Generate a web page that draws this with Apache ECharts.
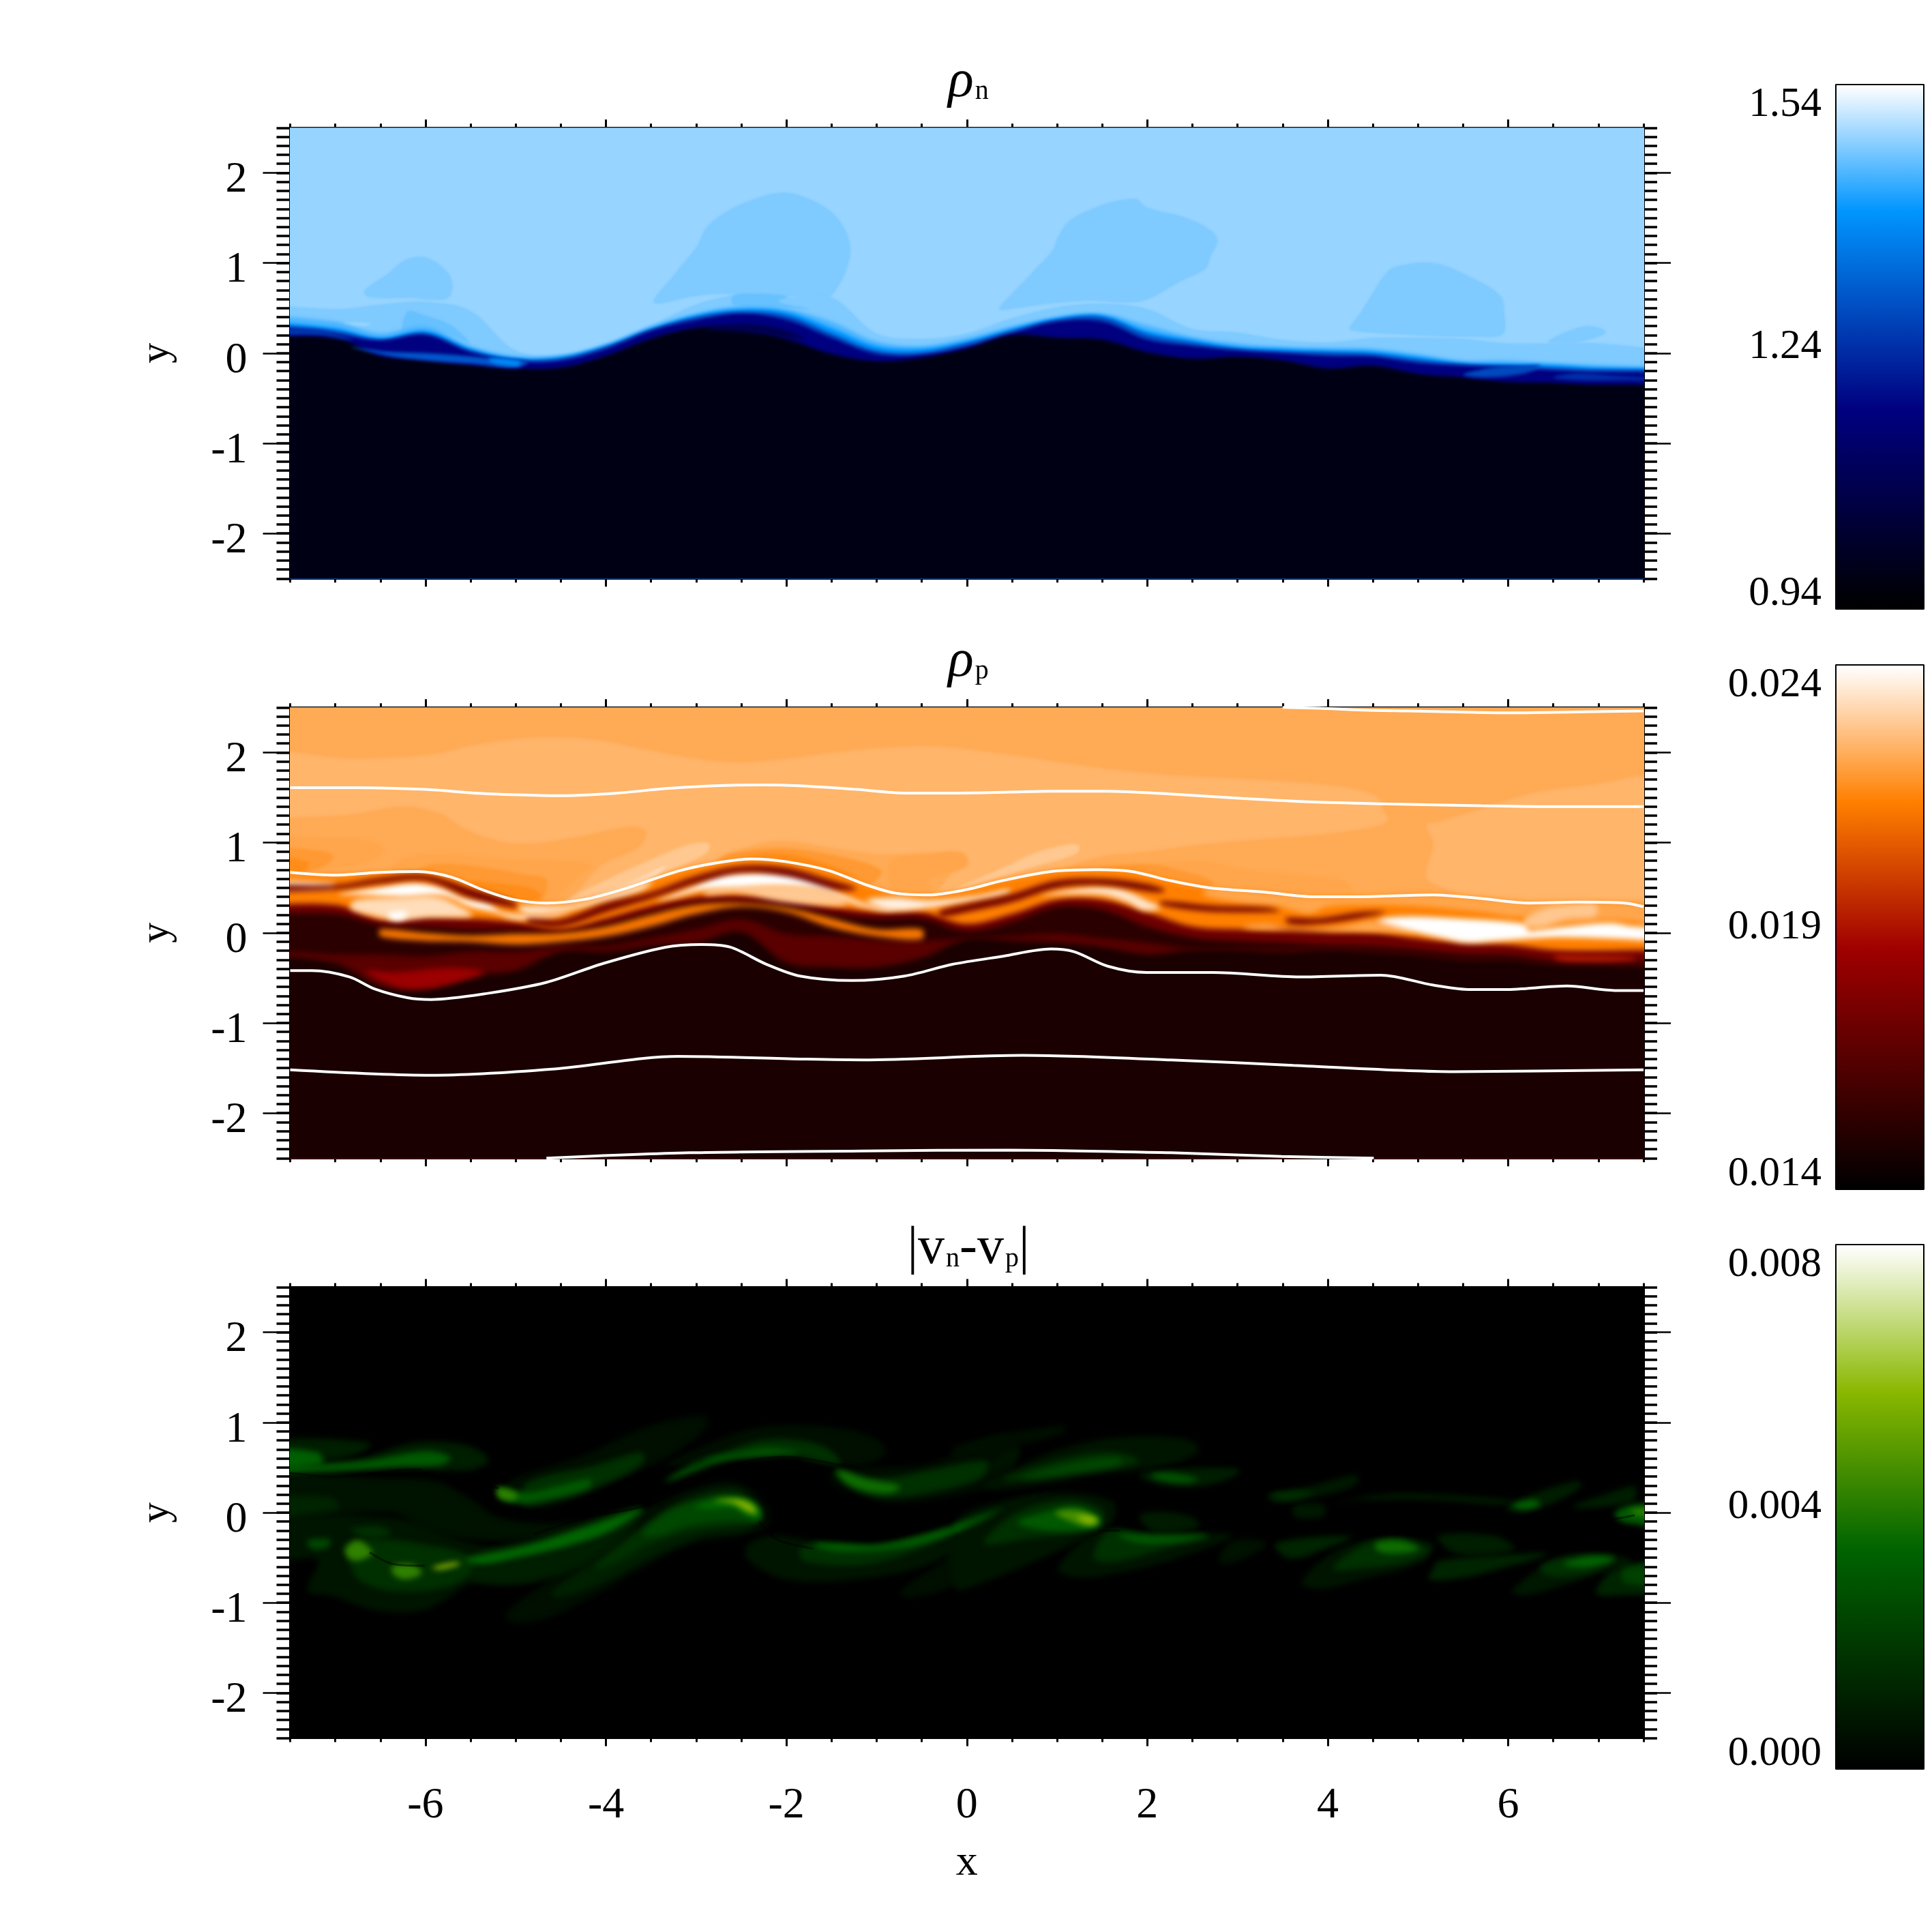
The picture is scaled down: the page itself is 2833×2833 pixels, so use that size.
<!DOCTYPE html>
<html>
<head>
<meta charset="utf-8">
<style>html,body{margin:0;background:#fff}#chart{width:2833px;height:2833px}</style>
<script src="https://cdn.jsdelivr.net/npm/echarts@6/dist/echarts.min.js"></script>
</head>
<body>
<div id="chart"></div>
<script>
// ticks
const xMajor = [-6, -4, -2, 0, 2, 4, 6];
const yMajor = [-2, -1, 0, 1, 2];
// colour tables: position in the bar, colour
const blueStops = [[0, '#000000'], [0.38, '#000080'], [0.76, '#0096ff'], [1, '#ffffff']];
const orangeStops = [[0, '#000000'], [0.46, '#a00000'], [0.74, '#ff8000'], [1, '#ffffff']];
const greenStops = [[0, '#000000'], [0.42, '#006400'], [0.72, '#8ab800'], [1, '#ffffff']];
const blueRange = [0.94, 1.24, 1.54];
const orangeRange = [0.014, 0.019, 0.024];
const greenRange = [0, 0.004, 0.008];

// x sampling of the layered interfaces
const bandX = [-7.5,-7,-6.5,-6,-5.5,-5,-4.5,-4,-3.5,-3,-2.5,-2,-1.5,-1,-0.5,0,0.5,1,1.5,2,2.5,3,3.5,4,4.5,5,5.5,6,6.5,7,7.5];

// rho_n: height of each density level
const rhoNBackground = 1.481;
const rhoNLevels = [1.468, 1.44, 1.396, 1.28, 1.168, 0.976];
const rhoNLevel1 = [.56,.49,.54,.57,.47,.03,-.01,.11,.31,.54,.65,.62,.62,.22,.16,.22,.39,.51,.55,.49,.27,.23,.15,.12,.17,.17,.16,.11,.11,.11,.01];
const rhoNLevel2 = [.44,.35,.22,.30,.08,-.03,-.03,.10,.30,.44,.52,.49,.35,.13,.08,.17,.30,.40,.44,.31,.18,.11,.07,.06,.05,-.01,-.08,-.08,-.11,-.13,-.16];
const rhoNLevel3 = [.37,.28,.17,.25,.05,-.06,-.04,.08,.27,.42,.49,.46,.28,.08,.05,.13,.27,.39,.42,.25,.15,.07,.05,.03,.02,-.04,-.11,-.12,-.13,-.16,-.17];
const rhoNLevel4 = [.34,.25,.15,.22,.03,-.07,-.06,.07,.26,.40,.46,.42,.22,.03,.01,.11,.25,.37,.40,.21,.12,.05,.02,.01,-.01,-.07,-.12,-.14,-.16,-.18,-.19];
const rhoNLevel5 = [.31,.21,.14,.20,.01,-.09,-.08,.05,.25,.37,.44,.37,.17,-.01,-.02,.07,.22,.35,.35,.15,.08,.03,0,-.03,-.04,-.11,-.14,-.16,-.19,-.21,-.21];
const rhoNLevel6 = [.18,.17,-.03,-.08,-.13,-.17,-.16,-.03,.16,.28,.28,.16,-.01,-.09,-.05,.05,.20,.17,.15,.01,-.06,-.04,-.08,-.17,-.14,-.23,-.27,-.32,-.33,-.35,-.35];
// rho_n: plumes above the interface
const rhoNPlumes = [
  [[-6.68,.69],[-6.41,.89],[-6.25,1.02],[-6.09,1.07],[-5.94,1.04],[-5.75,.89],[-5.7,.74],[-5.75,.61],[-5.94,.59],[-6.12,.61],[-6.63,.62]],
  [[-3.47,.56],[-3.23,.89],[-2.99,1.19],[-2.89,1.39],[-2.65,1.58],[-2.33,1.72],[-2.07,1.78],[-1.85,1.75],[-1.53,1.59],[-1.35,1.37],[-1.29,1.14],[-1.35,.89],[-1.48,.66],[-1.56,.61],[-1.99,.63],[-2.6,.65],[-2.83,.65],[-3.07,.62]],
  [[.36,.49],[.5,.66],[.72,.89],[.95,1.14],[1.01,1.29],[1.14,1.47],[1.46,1.63],[1.72,1.70],[1.88,1.71],[1.99,1.62],[2.41,1.51],[2.68,1.38],[2.78,1.25],[2.7,1.07],[2.65,.94],[2.36,.79],[1.99,.59],[1.72,.56],[1.38,.58],[.93,.55],[.56,.50]],
  [[4.24,.28],[4.37,.46],[4.48,.64],[4.64,.88],[4.75,.96],[5.17,1.0],[5.59,.84],[5.91,.64],[5.96,.44],[5.94,.21],[5.65,.18],[4.72,.21],[4.27,.25]],
  [[6.44,.12],[6.6,.22],[6.87,.30],[7.08,.25],[7.05,.2],[6.76,.12]]
];
// rho_n: small patches, [level, outline]
const rhoNUpperPatches = [
  [1.455, [[-2.59,.54],[-2.59,.64],[-2.33,.66],[-1.98,.63],[-2.09,.57],[-1.75,.49],[-2.3,.52]]],
  [1.455, [[-6.2,.46],[-6.01,.42],[-5.72,.31],[-5.51,.11],[-5.77,.22],[-6.04,.27],[-6.25,.22]]],
  [1.481, [[-6.9,.34],[-6.6,.33],[-6.68,.30],[-6.9,.31]]]
];
const rhoNLowerPatches = [
  [1.3, [[-6.83,.07],[-6.46,.02],[-5.99,0],[-5.56,-.03],[-5.14,-.07],[-4.87,-.09],[-4.98,-.16],[-5.46,-.12],[-5.99,-.08],[-6.41,-.03]]],
  [1.38, [[-5.3,-.06],[-4.95,-.09],[-4.98,-.14],[-5.25,-.11]]],
  [1.25, [[-7.5,.27],[-7.2,.26],[-6.97,.21],[-6.8,.14],[-7.2,.2],[-7.5,.2]]],
  [1.28, [[5.5,-.24],[5.81,-.16],[6.12,-.14],[6.36,-.14],[6.2,-.22],[5.76,-.27]]],
  [1.24, [[6.5,-.27],[6.76,-.22],[7.18,-.25],[7.5,-.3],[7.18,-.3],[6.76,-.3]]],
  [1.08, [[-2.9,.26],[-2.5,.32],[-2.1,.28],[-1.8,.16],[-2.2,.2],[-2.6,.24]]]
];

// rho_p: interface bands below the main contour
const rhoPMainLevel = 0.0214;
const rhoPBandLevels = [0.0172, 0.0152, 0.0166, 0.01475];
const rhoPBand1 = [.30,.31,.15,.18,.16,.12,.04,.16,.30,.40,.42,.39,.29,.23,.23,.10,.21,.37,.37,.23,.07,.04,.04,.02,.01,-.06,-.11,-.13,-.19,-.20,-.18];
const rhoPBand2 = [.21,.21,.09,.07,.04,.04,.01,.10,.23,.33,.34,.31,.21,.16,.16,.02,.12,.29,.26,.07,-.05,-.09,-.11,-.14,-.15,-.19,-.24,-.25,-.32,-.33,-.34];
const rhoPBand3 = [-.16,-.24,-.24,-.26,-.21,-.21,-.15,-.15,-.06,.04,.15,-.01,-.04,-.08,-.09,-.06,-.04,-.01,-.06,-.11,-.18,-.18,-.18,-.18,-.19,-.24,-.29,-.29,-.34,-.35,-.36];
const rhoPBand4 = [-.23,-.34,-.59,-.62,-.48,-.42,-.21,-.21,-.14,-.11,.01,-.33,-.38,-.38,-.28,-.07,-.09,-.11,-.16,-.24,-.19,-.19,-.21,-.19,-.21,-.25,-.30,-.30,-.35,-.36,-.38];
// rho_p: orange sheet inside the dark layer, top and bottom from x=-6.5 to x=-0.5
const rhoPSheetLevel = 0.0212;
const rhoPSheetX = [-6.5,-6,-5.5,-5,-4.5,-4,-3.5,-3,-2.5,-2,-1.5,-1,-0.5];
const rhoPSheetTop = [.04,0,-.03,-.01,0,.07,.20,.31,.33,.28,.16,.04,.04];
const rhoPSheetBottom = [-.04,-.09,-.10,-.13,-.10,-.04,.07,.21,.29,.23,.06,-.04,-.07];
// rho_p: white contour lines
const rhoPLineTop = [[3.5,2.5],[3.9,2.49],[4.38,2.47],[4.9,2.46],[5.44,2.45],[5.97,2.44],[6.76,2.45],[7.5,2.46]];
const rhoPLineUpper = [[-7.5,1.61],[-6.78,1.61],[-6,1.59],[-5.46,1.55],[-4.98,1.53],[-4.56,1.52],[-3.87,1.55],[-3.34,1.60],[-2.81,1.63],[-2.28,1.64],[-1.85,1.63],[-1.22,1.59],[-.69,1.55],[-.15,1.55],[.47,1.56],[.93,1.57],[1.56,1.57],[2.25,1.54],[3.05,1.49],[3.84,1.45],[4.64,1.43],[5.7,1.41],[6.5,1.40],[7.5,1.40]];
const rhoPLineMain = [[-7.5,.67],[-7,.64],[-6.52,.67],[-6.09,.68],[-5.72,.62],[-5.35,.47],[-5.03,.37],[-4.66,.33],[-4.24,.37],[-3.82,.48],[-3.18,.69],[-2.75,.78],[-2.38,.82],[-2.01,.79],[-1.53,.69],[-1.11,.53],[-.79,.44],[-.42,.42],[0,.48],[.4,.58],[.93,.68],[1.46,.70],[1.83,.68],[2.25,.58],[2.68,.50],[3.31,.45],[3.84,.40],[4.37,.40],[5.17,.42],[5.7,.38],[6.23,.33],[6.76,.34],[7.29,.33],[7.5,.29]];
const rhoPLineLower = [[-7.5,-.42],[-7.26,-.42],[-6.84,-.49],[-6.57,-.62],[-6.2,-.72],[-5.94,-.74],[-5.3,-.67],[-4.66,-.55],[-4.03,-.34],[-3.34,-.16],[-2.94,-.13],[-2.62,-.16],[-2.22,-.35],[-1.85,-.48],[-1.27,-.53],[-.69,-.48],[-.16,-.35],[.4,-.26],[.93,-.18],[1.19,-.21],[1.56,-.37],[1.99,-.44],[2.73,-.44],[3.69,-.49],[4.59,-.47],[5.17,-.58],[5.59,-.63],[5.96,-.63],[6.65,-.59],[7.18,-.64],[7.5,-.64]];
const rhoPLineDeep = [[-7.5,-1.52],[-5.94,-1.58],[-4.57,-1.51],[-3.2,-1.37],[-1.84,-1.40],[-1.15,-1.41],[.62,-1.36],[2.26,-1.41],[3.62,-1.47],[5.4,-1.54],[7.5,-1.52]];
const rhoPLineBottom = [[-4.66,-2.5],[-3.07,-2.44],[-1.15,-2.42],[.48,-2.41],[2.26,-2.44],[3.49,-2.48],[4.51,-2.5]];
// rho_p: upper fluid, drawn before the interface bands
const rhoPBackground = 0.02226;
const rhoPUpperPatches = [
  [0.02248, [[-7.5,1.92],[-6.78,1.93],[-5.99,1.97],[-5.46,2.08],[-5.08,2.14],[-4.66,2.17],[-4.13,2.14],[-3.6,2.04],[-3.07,1.94],[-2.54,1.89],[-2.01,1.93],[-1.48,2.0],[-.95,2.05],[-.42,2.07],[-.13,2.05],[.51,1.97],[1.04,1.89],[1.72,1.80],[2.26,1.75],[3,1.71],[3.9,1.65],[4.32,1.59],[4.56,1.5],[4.61,1.37],[4.67,1.25],[4.53,1.18],[4,1.10],[3,1.02],[2.52,.97],[1.88,.89],[1.46,.84],[.93,.68],[-.4,.42],[-4.6,.33],[-7.5,.67]]],
  [0.02248, [[5.09,1.20],[5.22,1.23],[5.7,1.37],[6.23,1.54],[6.76,1.62],[7.5,1.67],[7.5,.29],[6.23,.33],[5.65,.39],[5.22,.52],[5.09,.62],[5.17,1.0]]],
  [0.02226, [[-7.5,1.16],[-6.78,1.32],[-6.25,1.40],[-5.83,1.32],[-5.56,1.15],[-5.19,1.02],[-4.87,.99],[-4.39,1.05],[-3.71,1.18],[-3.55,1.12],[-3.65,.94],[-4.02,.77],[-4.55,.34],[-7.5,.67]]],
  [0.02226, [[-2.81,.79],[-2.54,.92],[-2.06,1.02],[-1.48,.94],[-.95,.87],[-.16,.89],[0,.82],[-.16,.67],[-.42,.42],[-1.11,.53],[-2.01,.79],[-2.38,.82]]],
  [0.02218, [[-7.5,1.02],[-7.05,1.05],[-6.62,1.02],[-6.46,.92],[-6.62,.79],[-7.31,.68],[-7.5,.67]]],
  [0.02192, [[-7.5,.92],[-7.15,.91],[-7.02,.83],[-7.26,.69],[-7.5,.67]]],
  [0.02166, [[-7.5,.85],[-7.31,.79],[-7.36,.68],[-7.5,.67]]],
  [0.02218, [[-6.38,.69],[-6.2,.84],[-5.77,.87],[-5.19,.82],[-4.39,.79],[-4.18,.74],[-4.29,.64],[-4.55,.39],[-4.66,.33],[-5.03,.37],[-5.35,.47],[-5.72,.62],[-6.09,.68]]],
  [0.02192, [[-6.09,.68],[-5.93,.76],[-5.46,.74],[-4.87,.64],[-4.66,.59],[-4.72,.36],[-5.03,.37],[-5.35,.47],[-5.72,.62]]],
  [0.02166, [[-5.51,.57],[-5.14,.54],[-4.82,.49],[-4.72,.41],[-4.82,.35],[-5.03,.37]]],
  [0.02288, [[-4.45,.34],[-4.13,.52],[-3.55,.79],[-3.07,.98],[-2.86,.99],[-2.88,.89],[-3.34,.67],[-3.81,.49],[-4.18,.36]]],
  [0.0233, [[-4.13,.39],[-3.71,.57],[-3.34,.74],[-3.49,.6],[-3.81,.48]]],
  [0.02192, [[-2.65,.87],[-2.06,.94],[-1.48,.86],[-.95,.69],[-1.11,.53],[-1.53,.69],[-2.01,.79],[-2.38,.82],[-2.75,.78]]],
  [0.02166, [[-2.54,.83],[-2.06,.88],[-1.64,.79],[-1.22,.62],[-1.53,.69],[-2.01,.79],[-2.38,.82]]],
  [0.02218, [[-.84,.79],[-.42,.87],[-.05,.89],[0,.74],[-.42,.59],[-.42,.42],[-.79,.44]]],
  [0.02288, [[-.13,.48],[.4,.72],[.77,.89],[1.14,.98],[1.25,.96],[1.2,.87],[.77,.74],[.4,.63]]],
  [0.02218, [[.93,.68],[1.46,.76],[1.99,.76],[2.62,.79],[3.16,.69],[3.9,.62],[4.19,.57],[4.27,.42],[3.84,.40],[3.31,.45],[2.68,.50],[2.25,.58],[1.83,.68],[1.46,.70]]],
  [0.02192, [[1.46,.71],[1.99,.76],[2.41,.68],[2.73,.57],[2.68,.50],[2.25,.58],[1.83,.68]]]
];
// rho_p: hot and dark structures on top of the bands
const rhoPLowerPatches = [
  [0.02218, [[2.68,.50],[3.31,.45],[3.84,.40],[4.37,.40],[5.17,.42],[5.7,.38],[6.23,.33],[6.18,.18],[5.7,.23],[5.06,.29],[4.53,.31],[4,.29],[3.79,.21],[3.47,.29],[3.05,.33],[2.62,.42]]],
  [0.02218, [[6.23,.33],[6.76,.34],[7.29,.33],[7.5,.29],[7.5,.07],[7.18,.14],[6.6,.10],[6.28,.04],[6.18,.14]]],
  [0.0233, [[-7.5,.58],[-7,.55],[-7.05,.5],[-7.5,.5]]],
  [0.0233, [[-6.78,.36],[-6.25,.39],[-5.88,.40],[-5.61,.29],[-5.48,.19],[-5.98,.17],[-6.3,.14],[-6.57,.19],[-6.83,.27]]],
  [0.024, [[-6.41,.22],[-6.2,.23],[-6.25,.15],[-6.38,.15]]],
  [0.024, [[-6.97,.43],[-6.52,.5],[-6.14,.55],[-5.83,.5],[-5.56,.38],[-5.3,.33],[-5.19,.25],[-5.06,.21],[-4.71,.19],[-4.39,.23],[-4.66,.16],[-5.03,.16],[-5.24,.23],[-5.51,.29],[-5.72,.39],[-5.88,.42],[-6.25,.40],[-6.67,.42]]],
  [0.0235, [[-4.98,.29],[-4.39,.31],[-3.81,.47],[-3.49,.57],[-3.6,.47],[-4.02,.34],[-4.45,.24],[-4.87,.21]]],
  [0.0229, [[-2.9,.47],[-2.54,.5],[-2.06,.52],[-1.59,.47],[-1.32,.33],[-1.48,.30],[-2.01,.34],[-2.54,.44],[-2.9,.42]]],
  [0.024, [[-3.44,.36],[-3.07,.5],[-2.75,.63],[-2.33,.67],[-1.96,.65],[-1.64,.57],[-1.37,.42],[-1.05,.30],[-.79,.26],[-.95,.25],[-1.27,.33],[-1.59,.47],[-2.06,.52],[-2.54,.5],[-2.91,.48],[-3.23,.40]]],
  [0.0237, [[-1.11,.36],[-.79,.39],[-.42,.36],[.11,.41],[.47,.48],[.47,.44],[.11,.36],[-.42,.28],[-.84,.25]]],
  [0.0235, [[.82,.42],[1.14,.48],[1.46,.51],[1.72,.48],[1.99,.36],[2.15,.28],[1.96,.25],[1.78,.34],[1.51,.42],[1.14,.43]]],
  [0.0222, [[3.05,.07],[3.32,.10],[3.58,.05],[4.11,.07],[4.56,.14],[4.96,.01],[4.53,.01],[3.9,.02],[3.16,.04]]],
  [0.02288, [[6.18,.14],[6.39,.26],[6.76,.31],[6.97,.31],[6.97,.19],[6.65,.16],[6.34,.07],[6.18,.10]]],
  [0.024, [[4.56,.14],[4.86,.18],[5.44,.16],[6.12,.11],[6.23,.06],[6.2,.02],[6.65,.07],[7.13,.11],[7.4,.07],[7.5,.04],[7.5,-.08],[7.03,-.06],[6.5,-.05],[5.86,-.09],[5.54,-.11],[5.28,-.06],[4.96,.01],[4.75,.07]]],
  [0.0172, [[-7.5,.52],[-7,.53],[-6.5,.61],[-6,.64],[-5.5,.49],[-5,.33],[-5,.28],[-5.5,.39],[-6,.58],[-6.5,.55],[-7,.48],[-7.5,.46]]],
  [0.0172, [[-4.87,.15],[-4.5,.15],[-4,.33],[-3.5,.45],[-3,.63],[-2.5,.74],[-2,.72],[-1.5,.58],[-1.22,.49],[-1.32,.47],[-1.5,.49],[-2,.63],[-2.5,.67],[-3,.55],[-3.5,.38],[-4,.23],[-4.5,.07],[-4.87,.10]]],
  [0.0172, [[-.3,.24],[0,.32],[.5,.43],[1,.58],[1.5,.60],[2,.54],[2.2,.47],[2.1,.45],[1.5,.53],[1,.50],[.5,.34],[0,.23],[-.3,.18]]],
  [0.0172, [[2.15,.35],[2.73,.30],[3.32,.28],[3.47,.24],[3.16,.23],[2.63,.24],[2.15,.31]]],
  [0.0172, [[3.53,.16],[3.9,.16],[4.38,.23],[4.64,.23],[4.32,.16],[3.9,.10],[3.58,.10]]],
  [0.0192, [[6.5,-.25],[6.87,-.25],[7.4,-.27],[7.4,-.30],[6.87,-.32],[6.55,-.30]]],
  [0.0185, [[-6.67,-.42],[-6.36,-.44],[-5.72,-.39],[-5.35,-.44],[-5.83,-.59],[-6.2,-.62],[-6.47,-.54]]]
];

// |vn-vp|: nested lobes of drift speed, [level, outline]
const driftPeakLobes = [
  [.0005, [[-5.11,-1.12],[-4.66,-.77],[-4.13,-.36],[-3.6,0],[-3.18,.22],[-2.59,.34],[-2.22,.09],[-2.22,-.16],[-2.54,-.26],[-3.07,-.36],[-3.6,-.62],[-4.13,-.92],[-4.66,-1.17],[-5.03,-1.22]]],
  [.00107, [[-4.61,-.89],[-4.13,-.54],[-3.6,-.16],[-3.18,.14],[-2.59,.28],[-2.28,.04],[-2.38,-.17],[-2.91,-.26],[-3.44,-.46],[-4.02,-.77],[-4.5,-.94]]],
  [.0016, [[-4.13,-.62],[-3.81,-.34],[-3.44,-.06],[-3.12,.11],[-2.59,.23],[-2.3,.04],[-2.38,-.11],[-2.96,-.19],[-3.49,-.34],[-3.92,-.57]]],
  [.0024, [[-3.6,-.24],[-3.34,-.01],[-2.96,.14],[-2.59,.18],[-2.3,.04],[-2.3,-.09],[-2.59,-.09],[-3.07,-.14],[-3.44,-.26]]],
  [.0034, [[-3.02,.06],[-2.81,.14],[-2.54,.16],[-2.33,.08],[-2.29,-.06],[-2.43,-.04],[-2.59,.05],[-2.83,.04]]],
  [.0056, [[-2.81,.13],[-2.54,.15],[-2.38,.09],[-2.33,-.01],[-2.43,.01],[-2.59,.10]]],
  [.0010, [[-5.56,-.50],[-4.66,-.26],[-3.6,.06],[-3.87,-.36],[-4.66,-.74],[-5.46,-.77]]],
  [.0034, [[-5.56,-.52],[-4.87,-.36],[-4.24,-.16],[-3.6,.04],[-3.92,-.19],[-4.39,-.36],[-5.08,-.52],[-5.4,-.57]]]
];
const driftUpperLobes = [
  [.0005, [[-3.34,.54],[-2.91,.74],[-2.43,.92],[-1.9,.97],[-1.22,.90],[-.9,.72],[-1,.57],[-1.43,.52],[-2.01,.64],[-2.54,.64],[-3.07,.52]]],
  [.0016, [[-3.07,.54],[-2.7,.67],[-2.28,.80],[-1.85,.80],[-1.53,.70],[-1.4,.54],[-1.64,.57],[-2.06,.66],[-2.54,.64]]],
  [.0028, [[-2.91,.58],[-2.54,.66],[-2.2,.72],[-1.85,.66],[-2.3,.62]]],
  [.0026, [[-3.34,.34],[-2.54,.62],[-2.06,.66],[-2.54,.66],[-3.07,.52]]],
  [.0005, [[-1.53,.39],[-1.27,.48],[-.42,.54],[.47,.87],[.47,.37],[0,.22],[-.79,.11],[-1.27,.22]]],
  [.0016, [[-1.48,.47],[-.95,.38],[-.42,.47],[.22,.57],[.16,.39],[-.42,.22],[-.95,.17],[-1.27,.27]]],
  [.0036, [[-1.43,.47],[-1.11,.37],[-.74,.29],[-.84,.22],[-1.11,.24],[-1.35,.34]]],
  [.0005, [[-5.03,.37],[-4.24,.64],[-3.49,.97],[-2.91,1.07],[-2.88,.95],[-3.28,.64],[-3.81,.39],[-4.45,.11],[-4.87,.06],[-5.14,.24]]],
  [.0016, [[-4.87,.33],[-4.13,.52],[-3.6,.67],[-3.6,.54],[-4.02,.32],[-4.55,.14],[-4.92,.09]]],
  [.0030, [[-5.19,.28],[-4.87,.22],[-4.55,.29],[-4.18,.37],[-4.18,.28],[-4.66,.15],[-5.03,.11],[-5.19,.19]]],
  [.0042, [[-5.19,.27],[-4.98,.2],[-5.03,.14],[-5.19,.17]]]
];
const driftLeftLobes = [
  [.0006, [[-7.5,.44],[-6.5,.38],[-5.9,.35],[-5.5,.15],[-5.2,-.05],[-4.6,-.12],[-4,-.05],[-3.4,.05],[-3.4,-.05],[-4,-.25],[-4.8,-.3],[-5.5,-.3],[-6,-.2],[-6.4,0],[-7.5,-.1]]],
  [.0010, [[-7.5,.49],[-6.78,.59],[-6.14,.77],[-5.56,.75],[-5.3,.59],[-5.51,.47],[-6.25,.49],[-7.05,.46]]],
  [.0030, [[-7.5,.49],[-7.05,.54],[-6.62,.58],[-5.99,.68],[-5.72,.61],[-5.83,.53],[-6.25,.51],[-7.05,.46],[-7.5,.44]]],
  [.0010, [[-7.5,.77],[-6.62,.78],[-6.78,.64],[-7.5,.47]]],
  [.0032, [[-7.5,.69],[-7.2,.67],[-7.15,.54],[-7.5,.49]]],
  [.0012, [[-7.5,.14],[-7.05,.17],[-6.97,.04],[-7.5,-.04]]],
  [.0007, [[-7.5,-.11],[-6.36,-.06],[-5.61,-.31],[-4.66,-.57],[-5.46,-.77],[-5.99,-1.07],[-6.52,-1.09],[-7.05,-.92],[-7.31,-.87],[-7.2,-.52],[-7.5,-.57]]],
  [.0016, [[-6.78,-.69],[-6.89,-.36],[-6.57,-.29],[-5.99,-.36],[-5.51,-.49],[-5.51,-.69],[-5.83,-.84],[-6.36,-.87],[-6.67,-.79]]],
  [.0024, [[-7.31,-.31],[-7.05,-.30],[-7.1,-.39],[-7.26,-.40]]],
  [.0016, [[-6.83,-.19],[-6.52,-.15],[-6.38,-.23],[-6.62,-.28]]],
  [.0042, [[-6.36,-.59],[-6.14,-.58],[-6.04,-.67],[-6.22,-.74],[-6.36,-.68]]],
  [.0042, [[-6.89,-.41],[-6.75,-.31],[-6.59,-.44],[-6.7,-.52],[-6.83,-.52]]],
  [.0058, [[-5.93,-.61],[-5.67,-.55],[-5.61,-.57],[-5.83,-.63]]]
];
const driftRightLobes = [
  [.0007, [[-2.43,-.36],[-2.17,-.26],[-1.69,-.31],[-.95,-.34],[.47,.04],[.32,-.16],[-.42,-.57],[-1.22,-.74],[-2.01,-.74],[-2.43,-.52]]],
  [.0016, [[-1.85,-.41],[-1.69,-.34],[-.95,-.36],[-.16,-.19],[-.42,-.36],[-1.11,-.57],[-1.8,-.54]]],
  [.0032, [[-1.69,-.35],[-1.4,-.35],[-.95,-.36],[-.16,-.16],[.32,0],[-.16,-.23],[-.74,-.39],[-1.37,-.43],[-1.64,-.39]]],
  [.0005, [[-.74,-.89],[-.31,-.57],[.47,-.03],[.47,-.52],[-.16,-.82],[-.58,-.94]]],
  [.0007, [[-.13,-.84],[-.13,-.11],[.45,.14],[1.09,.22],[1.62,.12],[1.62,-.09],[1.46,-.21],[.82,-.51],[.19,-.77]]],
  [.0016, [[.19,-.34],[.56,.0],[1.14,.14],[1.51,.02],[1.46,-.16],[.67,-.29]]],
  [.0030, [[.56,-.11],[.93,.02],[1.2,.07],[1.46,-.04],[1.46,-.16],[.93,-.20]]],
  [.0046, [[.98,0],[1.25,.02],[1.46,-.09],[1.35,-.15],[1.14,-.09]]],
  [.0058, [[1.22,-.05],[1.35,-.04],[1.45,-.09],[1.35,-.12]]],
  [.0026, [[-.13,-.14],[.29,.02],[.4,.04],[.03,-.11],[-.13,-.20]]],
  [.0007, [[.19,.29],[.82,.62],[1.57,.82],[2.41,.82],[2.57,.69],[2.2,.52],[1.46,.42],[.51,.27]]],
  [.0016, [[.4,.37],[1.04,.59],[1.62,.67],[1.91,.57],[1.46,.47],[.77,.37]]],
  [.0024, [[.61,.38],[1.14,.54],[1.67,.61],[1.72,.54],[1.2,.45]]],
  [.0007, [[-.13,.27],[.56,.74],[.56,.59],[-.13,.29]]],
  [.0005, [[-.13,.74],[1.06,.97],[1.09,.90],[.56,.74],[-.13,.59]]]
];
const driftFarLobes = [
  [.0010, [[1.91,.42],[2.26,.48],[3,.49],[3,.42],[2.57,.29],[2.1,.32]]],
  [.0028, [[2.04,.42],[2.26,.44],[2.57,.37],[2.41,.33],[2.1,.37]]],
  [.0007, [[1.01,-.62],[1.46,-.21],[2.04,-.22],[2.94,-.25],[2.52,-.44],[1.91,-.62],[1.25,-.72]]],
  [.0016, [[1.41,-.51],[1.57,-.21],[2.04,-.24],[2.68,-.26],[2.15,-.41],[1.67,-.54]]],
  [.0030, [[1.67,-.24],[2.1,-.26],[2.68,-.26],[2.26,-.33],[1.88,-.33]]],
  [.0007, [[3.71,-.77],[4.11,-.41],[4.53,-.30],[5.17,-.34],[5.06,-.54],[4.38,-.74],[3.9,-.85]]],
  [.0016, [[4.06,-.62],[4.43,-.34],[4.8,-.29],[5.12,-.41],[4.9,-.54],[4.38,-.62]]],
  [.0036, [[4.53,-.34],[4.8,-.31],[5.01,-.40],[4.8,-.45],[4.56,-.43]]],
  [.0012, [[5.17,-.62],[5.22,-.54],[5.81,-.48],[6.44,-.46],[5.91,-.62],[5.44,-.73],[5.12,-.74]]],
  [.0010, [[5.22,-.26],[5.86,-.26],[6.07,-.41],[5.44,-.46]]],
  [.0008, [[6.04,-.87],[6.6,-.49],[7.18,-.47],[7.4,-.57],[6.97,-.69],[6.23,-.91]]],
  [.0016, [[6.36,-.59],[6.71,-.49],[7.18,-.49],[6.87,-.67],[6.44,-.70]]],
  [.0034, [[6.6,-.57],[6.92,-.49],[7.18,-.52],[6.87,-.60]]],
  [.0030, [[7.18,-.01],[7.4,.09],[7.5,.09],[7.5,-.14],[7.29,-.11]]],
  [.0042, [[7.34,.01],[7.5,.06],[7.5,-.09]]],
  [.0012, [[6.97,-.89],[7.21,-.62],[7.5,-.54],[7.5,-.84],[7.18,-.92]]],
  [.0022, [[7.29,-.62],[7.5,-.59],[7.5,-.77],[7.29,-.78]]],
  [.0010, [[5.97,.04],[6.18,.17],[6.76,.35],[6.81,.29],[6.5,.11],[6.18,.01]]],
  [.0034, [[6.04,.08],[6.28,.14],[6.36,.09],[6.18,.04]]],
  [.0010, [[6.71,.06],[7.13,.22],[7.4,.29],[7.4,.14],[7.18,.08]]],
  [.0008, [[3.32,.19],[3.79,.29],[4.32,.42],[4.32,.32],[3.95,.19],[3.42,.11]]],
  [.0016, [[3.37,.2],[3.69,.24],[3.85,.22],[3.53,.14]]],
  [.0009, [[4.06,.11],[4.75,.21],[6.07,.14],[5.97,.09],[5.17,.14],[4.38,.14]]],
  [.0008, [[3.63,.08],[3.95,.09],[3.95,-.04],[3.63,-.05]]],
  [.0009, [[1.91,-.04],[2.15,.01],[2.52,-.06],[2.57,-.16],[2.1,-.23]]],
  [.0006, [[2.79,-.54],[2.94,-.31],[3.32,-.34],[3,-.54]]],
  [.0012, [[3.42,-.34],[4.27,-.26],[4,-.39],[3.58,-.51]]]
];
// |vn-vp|: dark filaments between the lobes
const driftDarkLines = [
  [[-7.5,.44],[-7.05,.4],[-6.3,.47],[-6.04,.48]],
  [[-5.72,.47],[-5.4,.32],[-5.19,.27]],
  [[-4.8,-.24],[-4.2,-.05],[-3.55,.08],[-2.54,.54],[-2.01,.62],[-1.37,.52]],
  [[-2.3,-.1],[-2.1,-.3],[-1.7,-.4]],
  [[-6.62,-.44],[-6.36,-.57],[-6.01,-.59]],
  [[1.45,-.2],[1.7,-.2]],
  [[6.5,-.12],[7.1,-.08],[7.4,-.03]]
];

const FONT = '"Liberation Serif"';
const PLOT_LEFT = 425.5, PLOT_WIDTH = 1984.5, PLOT_HEIGHT = 661;
const PLOT_TOPS = [187.3, 1037.3, 1887.5];
const BAR_LEFT = 2693, BAR_WIDTH = 127, BAR_HEIGHT = 767;
const BAR_TOPS = [125, 976, 1826];
// shapes are painted off the canvas and only their blurred shadow lands on the plot
const SHADOW_SHIFT = 4000;

function colorAt(stops, range, v) {
  const t = (v - range[0]) / (range[2] - range[0]);
  for (let i = 1; i < stops.length; i++) {
    if (t <= stops[i][0]) {
      const f = Math.max(0, (t - stops[i - 1][0]) / (stops[i][0] - stops[i - 1][0]));
      const a = echarts.color.parse(stops[i - 1][1]);
      const b = echarts.color.parse(stops[i][1]);
      return 'rgb(' + [0, 1, 2].map(k => Math.round(a[k] + (b[k] - a[k]) * f)).join(',') + ')';
    }
  }
  return stops[stops.length - 1][1];
}

// area under a curve, reaching past the plot so that the clip makes the edges
function below(xs, ys) {
  const pts = xs.map((x, i) => [x, ys[i]]);
  return [[xs[0] - 1, ys[0]]].concat(pts, [[xs[xs.length - 1] + 1, ys[ys.length - 1]], [9, -4], [-9, -4]]);
}
function belowLine(line) {
  return below(line.map(p => p[0]), line.map(p => p[1]));
}
function sheet(xs, top, bottom) {
  const upper = xs.map((x, i) => [x, top[i]]);
  const lower = xs.map((x, i) => [x, bottom[i]]).reverse();
  return upper.concat(lower);
}
const wholePlot = [[-9, 4], [9, 4], [9, -4], [-9, -4]];
// outlines touching the plot side are carried past it, so the blur does not fade there
function pastEdge(q) {
  return q[0] <= -7.5 ? [-8, q[1]] : q[0] >= 7.5 ? [8, q[1]] : q;
}

function patchSeries(axis, patches, stops, range, blur) {
  return {
    type: 'custom', xAxisIndex: axis, yAxisIndex: axis, clip: true, silent: true,
    data: patches.map(p => p[0]),
    renderItem(params, api) {
      const p = patches[params.dataIndex];
      const fill = colorAt(stops, range, p[0]);
      if (p[1] === wholePlot) {
        return { type: 'polygon', shape: { points: p[1].map(q => api.coord(q)) }, style: { fill } };
      }
      const points = p[1].map(q => {
        const c = api.coord(pastEdge(q));
        return [c[0] - SHADOW_SHIFT, c[1]];
      });
      return {
        type: 'polygon',
        shape: { points, smooth: 0.35 },
        style: { fill, shadowBlur: blur, shadowColor: fill, shadowOffsetX: SHADOW_SHIFT }
      };
    }
  };
}
function lineSeries(axis, pts, color, width) {
  return {
    type: 'line', xAxisIndex: axis, yAxisIndex: axis, data: pts, showSymbol: false, silent: true,
    smooth: 0.3, lineStyle: { color, width }, z: 5
  };
}

const xAxis = [], yAxis = [], grid = [], series = [];
const labelStyle = { fontFamily: FONT, fontSize: 64, color: '#000' };

function addPlotAxes(g, withXLabels) {
  const base = xAxis.length;
  const sides = [['bottom', 'left'], ['top', 'right']];
  sides.forEach((side, s) => {
    [false, true].forEach(major => {
      const xa = {
        type: 'value', gridIndex: g, min: -7.5, max: 7.5, interval: 0.5, position: side[0],
        axisLine: { onZero: false, lineStyle: { color: '#000', width: 3 } }, splitLine: { show: false },
        axisTick: { length: major ? 12 : 6, lineStyle: { color: '#000', width: 3 } }, axisLabel: { show: false }
      };
      const ya = {
        type: 'value', gridIndex: g, min: -2.5, max: 2.5, interval: 0.1, position: side[1],
        axisLine: { onZero: false, lineStyle: { color: '#000', width: 3 } }, splitLine: { show: false },
        axisTick: { length: major ? 40 : 20, lineStyle: { color: '#000', width: major ? 2.5 : 3.5 } }, axisLabel: { show: false }
      };
      if (major) {
        xa.axisTick.customValues = xMajor;
        ya.axisTick.customValues = yMajor;
        if (s === 0) {
          ya.axisLabel = Object.assign({ show: true, customValues: yMajor, margin: 63, verticalAlign: 'top', lineHeight: 22 }, labelStyle);
          ya.name = 'y';
          ya.nameLocation = 'middle';
          ya.nameGap = 165;
          ya.nameRotate = 90;
          ya.nameTextStyle = { fontFamily: FONT, fontSize: 60, color: '#000' };
          if (withXLabels) {
            xa.axisLabel = Object.assign({ show: true, customValues: xMajor, margin: 68 }, labelStyle);
            xa.name = 'x';
            xa.nameLocation = 'middle';
            xa.nameGap = 152;
            xa.nameTextStyle = { fontFamily: FONT, fontSize: 64, color: '#000' };
          }
        }
      }
      xAxis.push(xa);
      yAxis.push(ya);
    });
  });
  return base;
}

function addColorBar(g, stops, range, digits) {
  const base = xAxis.length;
  const frame = { onZero: false, lineStyle: { color: '#000', width: 4 } };
  ['bottom', 'top'].forEach(pos => xAxis.push({
    type: 'value', gridIndex: g, min: 0, max: 1, position: pos, axisLine: frame,
    axisTick: { show: false }, axisLabel: { show: false }, splitLine: { show: false }
  }));
  ['left', 'right'].forEach(pos => yAxis.push({
    type: 'value', gridIndex: g, min: range[0], max: range[2], position: pos, axisLine: frame, splitLine: { show: false },
    axisTick: { inside: true, length: 11, customValues: [range[1]], lineStyle: { color: '#000', width: 2 } },
    axisLabel: pos === 'left' ? {
      customValues: range, margin: 22, verticalAlignMinLabel: 'bottom', verticalAlignMaxLabel: 'top',
      formatter: v => Number(v).toFixed(digits),
      fontFamily: FONT, fontSize: 61, color: '#000', lineHeight: 42, padding: [8, 0, 0, 0]
    } : { show: false }
  }));
  series.push({
    type: 'custom', xAxisIndex: base, yAxisIndex: base, silent: true, clip: true,
    data: [[0, range[0], 1, range[2]]],
    renderItem(params, api) {
      const a = api.coord([api.value(0), api.value(1)]);
      const b = api.coord([api.value(2), api.value(3)]);
      return {
        type: 'rect', shape: { x: a[0], y: b[1], width: b[0] - a[0], height: a[1] - b[1] },
        style: { fill: new echarts.graphic.LinearGradient(0, 1, 0, 0, stops.map(s => ({ offset: s[0], color: s[1] }))) }
      };
    }
  });
}

PLOT_TOPS.forEach((top, i) => grid.push({ left: PLOT_LEFT, top, width: PLOT_WIDTH, height: PLOT_HEIGHT }));
BAR_TOPS.forEach(top => grid.push({ left: BAR_LEFT, top, width: BAR_WIDTH, height: BAR_HEIGHT }));

// rho_n
const ax0 = addPlotAxes(0, false);
const rhoNCurves = [rhoNLevel1, rhoNLevel2, rhoNLevel3, rhoNLevel4, rhoNLevel5, rhoNLevel6];
series.push(patchSeries(ax0,
  [[rhoNBackground, wholePlot]]
    .concat(rhoNPlumes.map(p => [rhoNLevels[0], p]))
    .concat([[rhoNLevels[0], below(bandX, rhoNCurves[0])]])
    .concat(rhoNUpperPatches),
  blueStops, blueRange, 3));
series.push(patchSeries(ax0,
  rhoNCurves.slice(1).map((c, i) => [rhoNLevels[i + 1], below(bandX, c)]).concat(rhoNLowerPatches),
  blueStops, blueRange, 5));

// rho_p
const ax1 = addPlotAxes(1, false);
const rhoPCurves = [rhoPBand1, rhoPBand2, rhoPBand3, rhoPBand4];
series.push(patchSeries(ax1, [[rhoPBackground, wholePlot]].concat(rhoPUpperPatches), orangeStops, orangeRange, 4));
series.push(patchSeries(ax1,
  [[rhoPMainLevel, belowLine(rhoPLineMain)]]
    .concat(rhoPCurves.map((c, i) => [rhoPBandLevels[i], below(bandX, c)]))
    .concat([[rhoPSheetLevel, sheet(rhoPSheetX, rhoPSheetTop, rhoPSheetBottom)]])
    .concat(rhoPLowerPatches),
  orangeStops, orangeRange, 9));
[rhoPLineTop, rhoPLineUpper, rhoPLineMain, rhoPLineLower, rhoPLineDeep, rhoPLineBottom]
  .forEach(l => series.push(lineSeries(ax1, l, '#fff', 4)));

// |vn-vp|
const ax2 = addPlotAxes(2, true);
series.push(patchSeries(ax2,
  [[0, wholePlot]].concat(driftPeakLobes, driftUpperLobes, driftLeftLobes, driftRightLobes, driftFarLobes)
    .sort((a, b) => a[0] - b[0]),
  greenStops, greenRange, 9));
driftDarkLines.forEach(l => series.push(lineSeries(ax2, l, 'rgba(0,0,0,0.5)', 3)));

addColorBar(3, blueStops, blueRange, 2);
addColorBar(4, orangeStops, orangeRange, 3);
addColorBar(5, greenStops, greenRange, 3);

function titleOf(top, text) {
  return {
    left: 1415, top, textAlign: 'center', text,
    textStyle: { rich: {
      r: { fontFamily: FONT, fontStyle: 'italic', fontSize: 78, fontWeight: 'normal', color: '#000', lineHeight: 78 },
      v: { fontFamily: FONT, fontSize: 78, fontWeight: 'normal', color: '#000', lineHeight: 78 },
      s: { fontFamily: FONT, fontSize: 40, fontWeight: 'normal', color: '#000', lineHeight: 78, padding: [28, 0, 0, 2] }
    } }
  };
}

const chart = echarts.init(document.getElementById('chart'), null, { renderer: 'canvas', devicePixelRatio: 1 });
chart.setOption({
  animation: false,
  backgroundColor: '#fff',
  title: [
    titleOf(76, '{r|ρ}{s|n}'),
    titleOf(926, '{r|ρ}{s|p}'),
    titleOf(1788, '{v||v}{s|n}{v|-v}{s|p}{v||}')
  ],
  grid, xAxis, yAxis, series
});
</script>
</body>
</html>
